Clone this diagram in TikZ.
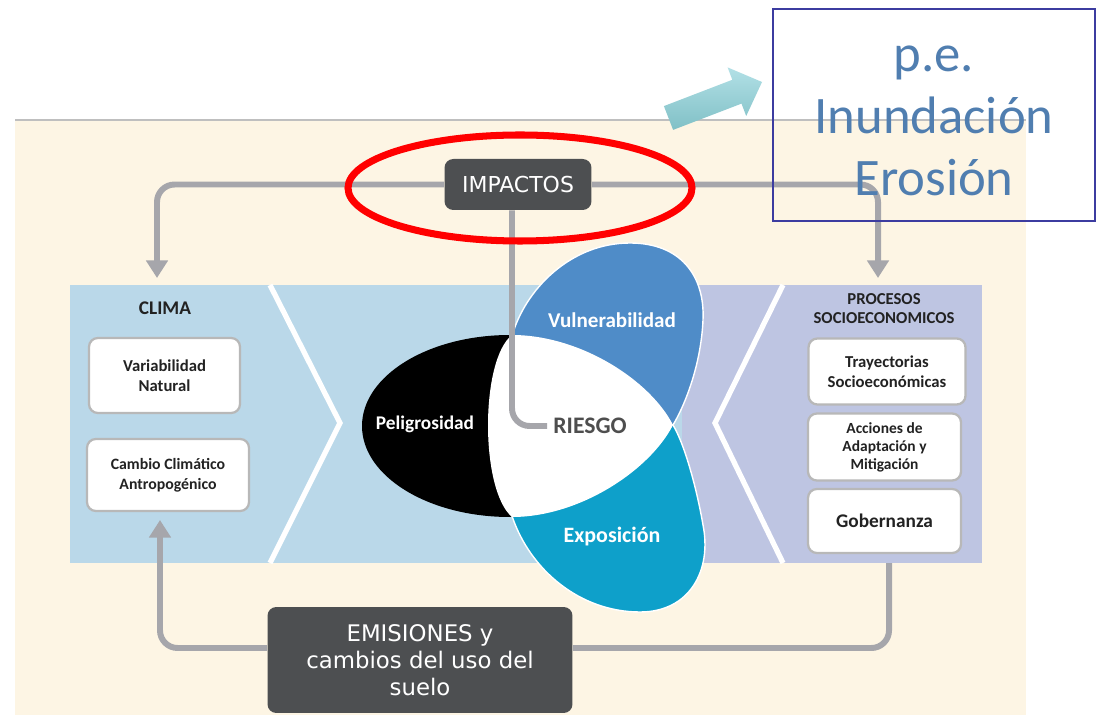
\documentclass[tikz,border=0pt]{standalone}
\usepackage{fontspec}
\setmainfont{Carlito}
\newfontfamily\verd{DejaVu Sans}
\usetikzlibrary{arrows.meta}
\definecolor{beige}{RGB}{253,245,228}
\definecolor{celeste}{RGB}{186,216,233}
\definecolor{lavanda}{RGB}{190,197,226}
\definecolor{vulner}{RGB}{79,140,200}
\definecolor{expos}{RGB}{14,160,202}
\definecolor{gris}{RGB}{166,166,171}
\definecolor{oscuro}{RGB}{77,79,81}
\definecolor{azultxt}{RGB}{80,126,176}
\definecolor{marco}{RGB}{60,60,160}
\definecolor{texto}{RGB}{34,34,34}
\definecolor{tealclaro}{RGB}{178,224,230}
\definecolor{tealosc}{RGB}{128,192,198}
\tikzset{
  caja/.style={draw=black!28,line width=1.3pt,fill=white,rounded corners=5pt,align=center,text=texto,font=\bfseries\fontsize{9.5}{11.3}\selectfont,inner sep=2pt},
  oscura/.style={fill=oscuro,rounded corners=5pt,text=white,align=center},
  flecha/.style={draw=gris,line width=3.4pt,rounded corners=10pt},
  punta/.style={-{Triangle[width=12pt,length=10pt]}},
  hoja/.style={draw=white,line width=0.8pt},
  etiq/.style={text=white,font=\bfseries\fontsize{12}{14}\selectfont},
}
\begin{document}
\begin{tikzpicture}[x=0.02cm,y=-0.02cm]
\useasboundingbox (0,0) rectangle (1097,715);
\fill[white] (0,0) rectangle (1097,715);
%beige panel
\fill[beige] (15,120) rectangle (1026,715);
\draw[black!25,line width=0.8pt] (15,120) -- (1026,120);
%clima and socioeconomic bands
\fill[celeste] (70,285) rectangle (682,563);
\fill[lavanda] (682,285) rectangle (982,563);
\draw[white,line width=3pt] (270,285) -- (340,423) -- (270,563);
\draw[white,line width=3pt] (783,285) -- (715,423) -- (783,563);
%left column
\node[text=texto,font=\bfseries\fontsize{11}{13}\selectfont] (clima) at (165,308) {CLIMA};
\node[caja,minimum width=3.02cm,minimum height=1.5cm] (variab) at (164.5,375.5) {Variabilidad\\Natural};
\node[caja,minimum width=3.24cm,minimum height=1.44cm,font=\bfseries\fontsize{9}{11.3}\selectfont] (cambio) at (168,475) {Cambio Climático\\Antropogénico};
%right column
\node[text=texto,align=center,font=\bfseries\fontsize{9.5}{10.8}\selectfont] (procesos) at (884,309) {PROCESOS\\SOCIOECONOMICOS};
\node[caja,minimum width=3.14cm,minimum height=1.32cm] (trayect) at (887,371.5) {Trayectorias\\Socioeconómicas};
\node[caja,minimum width=3.06cm,minimum height=1.34cm,font=\bfseries\fontsize{8.8}{10.2}\selectfont] (acciones) at (884.5,447) {Acciones de\\Adaptación y\\Mitigación};
\node[caja,minimum width=3.06cm,minimum height=1.28cm,font=\bfseries\fontsize{11}{13}\selectfont] (gober) at (884.5,521) {Gobernanza};
%risk petals
\fill[black] (510,426) ellipse [x radius=148, y radius=91];
\path[hoja,fill=vulner] (512,336) .. controls (525,290) and (570,243) .. (630,243)
  .. controls (680,243) and (705,275) .. (703,320)
  .. controls (701,365) and (685,405) .. (673,425) -- (600,440) -- (500,400) -- cycle;
\path[hoja,fill=expos] (512,516) .. controls (530,570) and (580,612) .. (640,612)
  .. controls (690,612) and (712,570) .. (703,525)
  .. controls (697,490) and (685,445) .. (673,425) -- (600,410) -- (500,450) -- cycle;
\fill[white] (512,335) .. controls (580,335) and (650,380) .. (673,425)
  .. controls (650,470) and (580,517) .. (512,517)
  .. controls (480,490) and (480,360) .. (512,335) -- cycle;
\node[etiq,font=\bfseries\fontsize{11}{13}\selectfont] (pelig) at (425,424) {Peligrosidad};
\node[etiq] (vulnera) at (612,320) {Vulnerabilidad};
\node[etiq,font=\bfseries\fontsize{12.5}{14}\selectfont] (exposic) at (612,537) {Exposición};
\node[text=texto!80,font=\bfseries\fontsize{13.5}{15}\selectfont] (riesgo) at (590,426) {RIESGO};
%impacts and emissions
\node[oscura,minimum width=2.94cm,minimum height=1.02cm,font=\verd\fontsize{12.5}{14}\selectfont] (impactos) at (518,184.5) {IMPACTOS};
\node[oscura,minimum width=6.1cm,minimum height=2.12cm,font=\verd\fontsize{13}{15.3}\selectfont] (emisiones) at (420,660) {EMISIONES y\\cambios del uso del\\suelo};
\coordinate (climain) at (157,278);
\coordinate (procin) at (878,278);
\coordinate (procout) at (889,563);
\coordinate (climaout) at (160,520);
%feedback loop
\draw[flecha,punta] (impactos.west) -| (climain);
\draw[flecha,punta] (impactos.east) -| (procin);
\draw[flecha] ([xshift=-0.12cm]impactos.south) |- (riesgo.west);
\draw[flecha] (procout) |- ([yshift=0.24cm]emisiones.east);
\draw[flecha,punta] ([yshift=0.24cm]emisiones.west) -| (climaout);
%highlight
\draw[red,line width=4pt] (520,188) ellipse [x radius=172, y radius=53];
\shade[top color=tealclaro,bottom color=tealosc] (663.9,106.1) -- (732.3,79.8) -- (727.6,67.4) -- (762,82) -- (746.2,116) -- (741.5,103.6) -- (673.1,129.9) -- cycle;
\draw[marco,line width=1pt] (773,9) rectangle (1095,221);
\node[text=azultxt,align=center,font=\fontsize{30}{35.5}\selectfont] (ejemplo) at (934,121) {p.e.\\Inundación\\Erosión};
\end{tikzpicture}
\end{document}
